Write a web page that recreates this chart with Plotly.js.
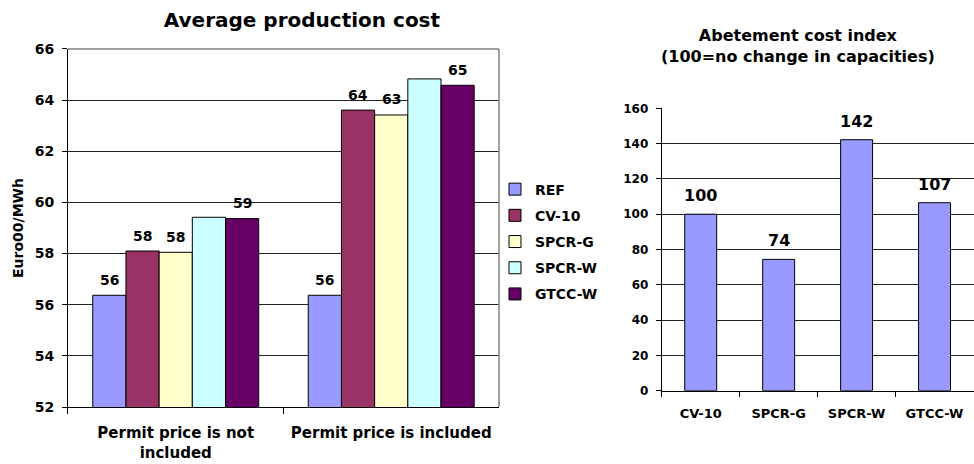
<!DOCTYPE html>
<html>
<head>
<meta charset="utf-8">
<script src="https://cdn.plot.ly/plotly-3.0.1.min.js"></script>
<style>
  html, body { margin: 0; padding: 0; background: #ffffff; }
  #chart { width: 974px; height: 464px; }
</style>
</head>
<body>
<div id="chart"></div>
<script>
// Average production cost (Euro00/MWh) per scenario, two permit-price cases
const costCategories = ['Permit price is not<br>included', 'Permit price is included'];
const seriesNames = ['REF', 'CV-10', 'SPCR-G', 'SPCR-W', 'GTCC-W'];
const seriesColors = ['#9999FF', '#993366', '#FFFFCC', '#CCFFFF', '#660066'];
const refCost   = [56.37, 56.37];
const cv10Cost  = [58.10, 63.61];
const spcrGCost = [58.05, 63.42];
const spcrWCost = [59.42, 64.83];
const gtccWCost = [59.37, 64.58];
const costSeries = [refCost, cv10Cost, spcrGCost, spcrWCost, gtccWCost];
// series whose values are printed above their bars
const labelledSeries = ['REF', 'CV-10', 'SPCR-G', 'GTCC-W'];

// Abatement cost index (100 = no change in capacities)
const indexCategories = ['CV-10', 'SPCR-G', 'SPCR-W', 'GTCC-W'];
const indexValues = [100, 74.4, 142.2, 106.5];

const FONT = 'DejaVu Sans, Verdana, Arial, sans-serif';
const BARGAP_LEFT = 0.23;
const BARGAP_RIGHT = 0.59;

const traces = [];
seriesNames.forEach((name, i) => {
  traces.push({
    type: 'bar',
    name: name,
    legendgroup: name,
    x: costCategories,
    y: costSeries[i],
    xaxis: 'x',
    yaxis: 'y',
    marker: { color: seriesColors[i], line: { color: '#000000', width: 1 } },
    hoverinfo: 'x+y+name'
  });
});
traces.push({
  type: 'bar',
  name: 'Abatement cost index',
  x: indexCategories,
  y: indexValues,
  xaxis: 'x2',
  yaxis: 'y2',
  showlegend: false,
  width: 1 - BARGAP_RIGHT,
  marker: { color: '#9999FF', line: { color: '#000000', width: 1 } }
});

// value labels above the bars
const annotations = [];
const groupWidth = 1 - BARGAP_LEFT;
const barWidth = groupWidth / seriesNames.length;
seriesNames.forEach((name, i) => {
  if (!labelledSeries.includes(name)) return;
  costSeries[i].forEach((v, c) => {
    annotations.push({
      xref: 'x', yref: 'y',
      x: c - groupWidth / 2 + barWidth * (i + 0.5),
      y: v,
      text: String(Math.round(v)),
      showarrow: false,
      yanchor: 'middle',
      yshift: 15.5,
      font: { family: FONT, size: 14, color: '#000000', weight: 'bold' }
    });
  });
});
indexValues.forEach((v, c) => {
  annotations.push({
    xref: 'x2', yref: 'y2',
    x: c, y: v,
    text: String(Math.round(v)),
    showarrow: false,
    yanchor: 'middle',
    yshift: 18.5,
    font: { family: FONT, size: 16, color: '#000000', weight: 'bold' }
  });
});
// second chart title
annotations.push({
  xref: 'paper', yref: 'paper',
  x: 0.8193, y: 0.8998,
  xanchor: 'center', yanchor: 'middle',
  text: 'Abetement cost index<br>(100=no change in capacities)',
  showarrow: false,
  font: { family: FONT, size: 16, color: '#000000', weight: 'bold' }
});

const tickFont = (size) => ({ family: FONT, size: size, color: '#000000', weight: 'bold' });

const layout = {
  width: 974,
  height: 464,
  margin: { l: 0, r: 0, t: 0, b: 0 },
  paper_bgcolor: '#ffffff',
  plot_bgcolor: '#ffffff',
  barmode: 'group',
  bargap: BARGAP_LEFT,
  bargroupgap: 0,
  font: { family: FONT, color: '#000000' },
  title: {
    text: 'Average production cost',
    x: 0.310, xanchor: 'center', xref: 'paper',
    y: 0.957, yanchor: 'middle', yref: 'paper',
    font: { family: FONT, size: 20, color: '#000000', weight: 'bold' }
  },
  xaxis: {
    domain: [0.0698, 0.5123],
    anchor: 'y',
    type: 'category',
    showline: true, linecolor: '#000000', linewidth: 1,
    ticks: 'outside', tickson: 'boundaries', ticklen: 6, tickcolor: '#000000',
    ticklabelstandoff: 12,
    showgrid: false,
    tickfont: tickFont(15),
    fixedrange: true
  },
  yaxis: {
    domain: [0.1228, 0.8944],
    anchor: 'x',
    range: [52, 66],
    dtick: 2,
    showline: true, linecolor: '#000000', linewidth: 1,
    ticks: 'outside', ticklen: 5, tickcolor: '#000000',
    ticklabelstandoff: 5,
    showgrid: true, gridcolor: '#222222', gridwidth: 1,
    zeroline: false,
    tickfont: tickFont(14),
    title: { text: 'Euro00/MWh', standoff: 7, font: tickFont(14) },
    fixedrange: true
  },
  xaxis2: {
    domain: [0.6794, 0.9995],
    anchor: 'y2',
    type: 'category',
    showline: true, linecolor: '#000000', linewidth: 1,
    ticks: 'outside', tickson: 'boundaries', ticklen: 5, tickcolor: '#000000',
    ticklabelstandoff: 11,
    showgrid: false,
    tickfont: tickFont(13),
    fixedrange: true
  },
  yaxis2: {
    domain: [0.158, 0.7666],
    anchor: 'x2',
    range: [0, 160],
    dtick: 20,
    showline: true, linecolor: '#000000', linewidth: 1,
    ticks: 'outside', ticklen: 5, tickcolor: '#000000',
    ticklabelstandoff: 5,
    showgrid: true, gridcolor: '#222222', gridwidth: 1,
    zeroline: false,
    tickfont: tickFont(12),
    fixedrange: true
  },
  legend: {
    x: 0.5082, y: 0.626,
    xanchor: 'left', yanchor: 'top',
    traceorder: 'grouped',
    tracegroupgap: 5,
    itemwidth: 30,
    bgcolor: 'rgba(0,0,0,0)',
    font: { family: FONT, size: 14, color: '#000000', weight: 'bold' }
  },
  shapes: [
    // grey plot-area frame (top and right) of the cost chart
    { type: 'line', xref: 'x domain', yref: 'y domain', x0: 0, x1: 1, y0: 1, y1: 1,
      line: { color: '#808080', width: 1.5 }, layer: 'above' },
    { type: 'line', xref: 'x domain', yref: 'y domain', x0: 1, x1: 1, y0: 0, y1: 1,
      line: { color: '#808080', width: 1.5 }, layer: 'above' }
  ],
  annotations: annotations,
  showlegend: true
};

Plotly.newPlot('chart', traces, layout, { displayModeBar: false, staticPlot: true });
</script>
</body>
</html>
